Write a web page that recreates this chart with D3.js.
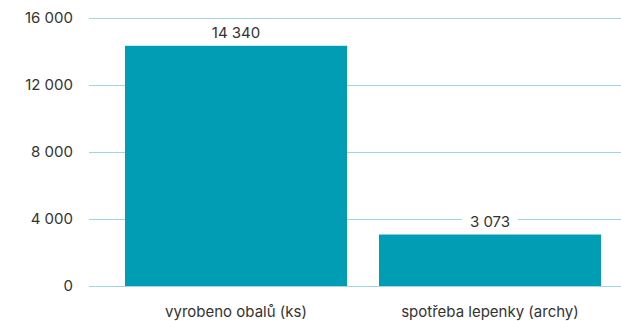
<!DOCTYPE html>
<html>
<head>
<meta charset="utf-8">
<script src="https://cdn.jsdelivr.net/npm/d3@7"></script>
<style>
  html, body { margin: 0; padding: 0; background: #fff; }
  svg { display: block; }
  text { font-family: Inter, "Open Sans", sans-serif; fill: #333; }
</style>
</head>
<body>
<svg id="chart" width="621" height="321"></svg>
<script>
const categories = ["vyrobeno obalů (ks)", "spotřeba lepenky (archy)"];
const values = [14340, 3073];
const tickValues = [0, 4000, 8000, 12000, 16000];

const W = 621, H = 321;
const gridLeft = 89, gridRight = 621;
const y0 = 286, yTop = 18;

const svg = d3.select("#chart");

const fmt = v => d3.format(",")(v).replace(/,/g, "\u2009");
const fmtSpace = v => d3.format(",")(v).replace(/,/g, " ");

const x = d3.scaleBand()
  .domain(categories)
  .range([93, 633])
  .paddingInner(0.126)
  .paddingOuter(0.126);

const y = d3.scaleLinear()
  .domain([0, 16000])
  .range([y0, yTop]);

// horizontal gridlines with tick labels
const yAxis = d3.axisLeft(y)
  .tickValues(tickValues)
  .tickSize(-(gridRight - gridLeft))
  .tickPadding(16)
  .tickFormat(fmtSpace);

const gy = svg.append("g")
  .attr("transform", `translate(${gridLeft},0)`)
  .call(yAxis);
gy.select(".domain").remove();
gy.selectAll(".tick line").attr("stroke", "#9fd6e2").attr("stroke-width", 1);
gy.selectAll(".tick text")
  .attr("font-size", 15)
  .attr("fill", "#333")
  .style("font-family", "Inter, 'Open Sans', sans-serif");

// bars
svg.append("g").selectAll("rect")
  .data(values)
  .join("rect")
  .attr("x", (d, i) => x(categories[i]))
  .attr("width", x.bandwidth())
  .attr("y", d => y(d))
  .attr("height", d => y0 - y(d))
  .attr("fill", "#019db5");

// value labels on a white backdrop so gridlines break around them
const labels = svg.append("g").selectAll("g")
  .data(values)
  .join("g")
  .attr("transform", (d, i) => `translate(${x(categories[i]) + x.bandwidth() / 2},${y(d) - 8})`);

labels.append("text")
  .attr("text-anchor", "middle")
  .attr("font-size", 15)
  .text(d => fmtSpace(d))
  .each(function () {
    const b = this.getBBox();
    d3.select(this.parentNode).insert("rect", "text")
      .attr("x", b.x - 8)
      .attr("y", b.y)
      .attr("width", b.width + 16)
      .attr("height", b.height)
      .attr("fill", "#fff");
  });

// category labels
svg.append("g").selectAll("text")
  .data(categories)
  .join("text")
  .attr("x", d => x(d) + x.bandwidth() / 2)
  .attr("y", 317)
  .attr("text-anchor", "middle")
  .attr("font-size", 15)
  .text(d => d);
</script>
</body>
</html>
